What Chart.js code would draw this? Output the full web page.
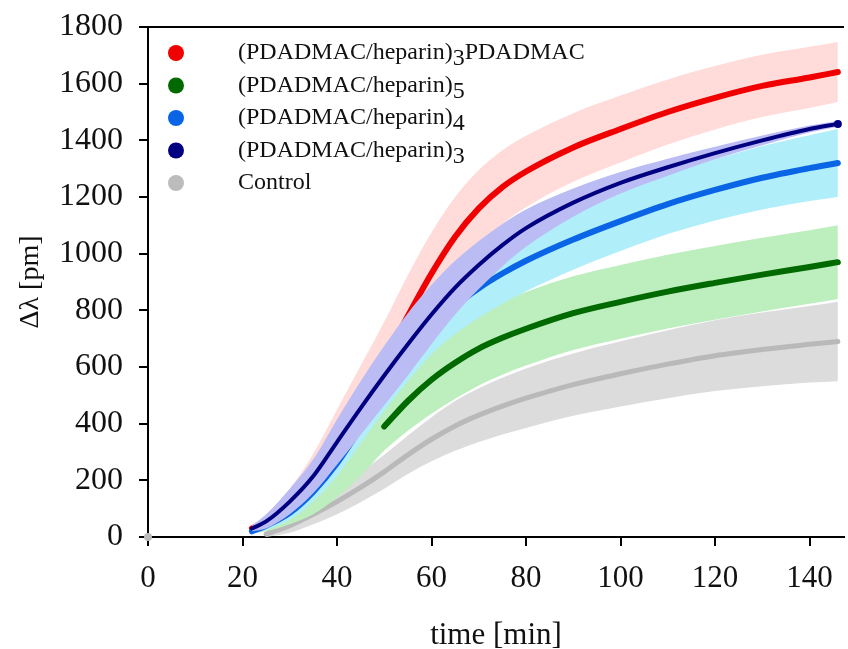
<!DOCTYPE html>
<html>
<head>
<meta charset="utf-8">
<script src="https://cdn.jsdelivr.net/npm/chart.js@4.4.1/dist/chart.umd.min.js"></script>
<style>
  html, body { margin: 0; padding: 0; background: #fff; }
  #wrap { width: 848px; height: 649px; position: relative; }
</style>
</head>
<body>
<div id="wrap"><canvas id="myChart"></canvas></div>
<script>
/* global Chart */
// time [min]
var time = [0, 22, 25, 30, 35, 40, 45, 50, 55, 60, 65, 70, 75, 80, 90, 100, 110, 120, 130, 140, 146];

// mean curves, delta lambda [pm]
var redMean   = [null, 30, 55, 125, 220, 350, 480, 620, 780, 930, 1060, 1160, 1235, 1290, 1375, 1440, 1500, 1550, 1592, 1622, 1641];
var greenMean = [null, null, null, null, null, null, null, 390, 480, 555, 615, 665, 703, 735, 790, 830, 866, 897, 926, 953, 970];
var blueMean  = [null, 20, 40, 85, 160, 260, 385, 510, 630, 735, 815, 878, 930, 975, 1050, 1115, 1175, 1225, 1268, 1302, 1320];
var navyMean  = [null, 30, 55, 125, 215, 335, 455, 570, 680, 785, 880, 960, 1030, 1090, 1180, 1250, 1305, 1355, 1400, 1440, 1458];
var grayMean  = [0, null, 10, 40, 80, 125, 175, 230, 290, 345, 392, 430, 462, 490, 538, 576, 610, 640, 662, 680, 690];

// band centres (where the line is hidden) and half widths
var greenBandMid = [null, 20, 35, 70, 120, 190, 280, 390, 480, 555, 615, 665, 703, 735, 790, 830, 866, 897, 926, 953, 970];
var redSpread   = [null, 10, 20, 45, 75, 100, 125, 140, 145, 145, 140, 135, 130, 126, 121, 118, 115, 112, 110, 108, 106];
var greenSpread = [null, 8, 15, 25, 40, 50, 65, 85, 105, 120, 127, 130, 130, 130, 130, 130, 130, 130, 130, 130, 130];
var blueSpread  = [null, 8, 15, 25, 35, 45, 55, 65, 80, 90, 98, 104, 107, 108, 107, 106, 106, 108, 112, 116, 120];
var navySpread  = [null, 10, 25, 45, 60, 80, 95, 105, 110, 105, 95, 85, 75, 66, 50, 38, 30, 22, 17, 12, 10];
var graySpread  = [null, null, 10, 25, 35, 45, 52, 60, 68, 78, 88, 95, 100, 105, 110, 115, 120, 125, 130, 135, 140];

var legendItems = [
  { main: '(PDADMAC/heparin)', sub: '3', tail: 'PDADMAC', color: '#f00000' },
  { main: '(PDADMAC/heparin)', sub: '5', tail: '', color: '#006a00' },
  { main: '(PDADMAC/heparin)', sub: '4', tail: '', color: '#0a64e6' },
  { main: '(PDADMAC/heparin)', sub: '3', tail: '', color: '#000080' },
  { main: 'Control', sub: '', tail: '', color: '#bcbcbc' }
];

var FONT = '"Liberation Serif", "Times New Roman", serif';

function pts(vals) {
  return time.map(function(t, i) { return { x: t, y: vals[i] }; });
}
function shift(mid, spread, sign) {
  return mid.map(function(v, i) {
    if (v === null || spread[i] === null) return null;
    return v + sign * spread[i];
  });
}

function band(mid, spread, color, order) {
  return [
    { data: pts(shift(mid, spread, 1)), borderWidth: 0, pointRadius: 0, fill: false, order: order, cubicInterpolationMode: 'monotone' },
    { data: pts(shift(mid, spread, -1)), borderWidth: 0, pointRadius: 0, fill: '-1', backgroundColor: color, order: order, cubicInterpolationMode: 'monotone' }
  ];
}
function line(vals, color, width, order, radiusFn) {
  return {
    data: pts(vals), borderColor: color, backgroundColor: color, borderWidth: width,
    borderCapStyle: 'round', fill: false, order: order, clip: false,
    pointRadius: radiusFn || 0, pointBorderWidth: 0, cubicInterpolationMode: 'monotone'
  };
}

var datasets = [].concat(
  band(grayMean, graySpread, '#dcdcdc', 11),
  [line(grayMean, '#b9b9b9', 5, 10, function(c) { return c.dataIndex === 0 ? 4 : 0; })],
  band(redMean, redSpread, '#ffdcda', 9),
  [line(redMean, '#f00000', 6, 8)],
  band(greenBandMid, greenSpread, '#bdeebd', 7),
  [line(greenMean, '#006a00', 6, 6)],
  band(blueMean, blueSpread, '#b0eefa', 5),
  [line(blueMean, '#0a64e6', 6, 4)],
  band(navyMean, navySpread, '#bcbcf5', 3),
  [line(navyMean, '#000080', 4, 2, function(c) { return c.dataIndex === time.length - 1 ? 4 : 0; })]
);

var legendPlugin = {
  id: 'subLegend',
  afterDraw: function(chart) {
    var c = chart.ctx;
    c.save();
    c.font = '24px ' + FONT;
    c.textBaseline = 'middle';
    legendItems.forEach(function(it, i) {
      var y = 53 + i * 32.5;
      c.fillStyle = it.color;
      c.beginPath();
      c.arc(176, y, 8, 0, Math.PI * 2);
      c.fill();
      c.fillStyle = '#111';
      var x = 238;
      c.fillText(it.main, x, y);
      x += c.measureText(it.main).width;
      if (it.sub) {
        c.fillText(it.sub, x, y + 6);
        x += c.measureText(it.sub).width;
      }
      if (it.tail) c.fillText(it.tail, x, y);
    });
    c.restore();
  }
};

var ctx = document.getElementById('myChart');
var myChart = new Chart(ctx, {
  type: 'line',
  data: { datasets: datasets },
  plugins: [legendPlugin],
  options: {
    responsive: true,
    maintainAspectRatio: false,
    animation: false,
    layout: { padding: { top: 27, right: 0, left: 0, bottom: 0 } },
    plugins: { legend: { display: false }, tooltip: { enabled: false } },
    scales: {
      x: {
        type: 'linear', min: 0, max: 147.3,
        afterFit: function(s) { s.height = 112; },
        ticks: {
          stepSize: 20, includeBounds: false, color: '#111', padding: 14, font: { family: FONT, size: 31 },
          callback: function(value) { return String(value); }
        },
        grid: { drawOnChartArea: false, tickLength: 9, tickColor: '#000', lineWidth: 2 },
        border: { color: '#000', width: 2 },
        title: { display: true, text: 'time [min]', color: '#111', padding: { top: 0, bottom: -5 }, font: { family: FONT, size: 31 } }
      },
      y: {
        min: 0, max: 1800,
        afterFit: function(s) { s.width = 148; },
        ticks: {
          stepSize: 200, color: '#111', padding: 16, font: { family: FONT, size: 32, lineHeight: 0.5 },
          callback: function(value) { return String(value); }
        },
        grid: {
          drawOnChartArea: true, tickLength: 9, tickColor: '#000', lineWidth: 2,
          color: function(c) { return c.tick && c.tick.value === 1800 ? '#000' : 'rgba(0,0,0,0)'; }
        },
        border: { color: '#000', width: 2 },
        title: { display: true, text: 'Δλ [pm]', color: '#111', padding: { top: 14, bottom: 0 }, font: { family: FONT, size: 28 } }
      }
    }
  }
});
</script>
</body>
</html>
